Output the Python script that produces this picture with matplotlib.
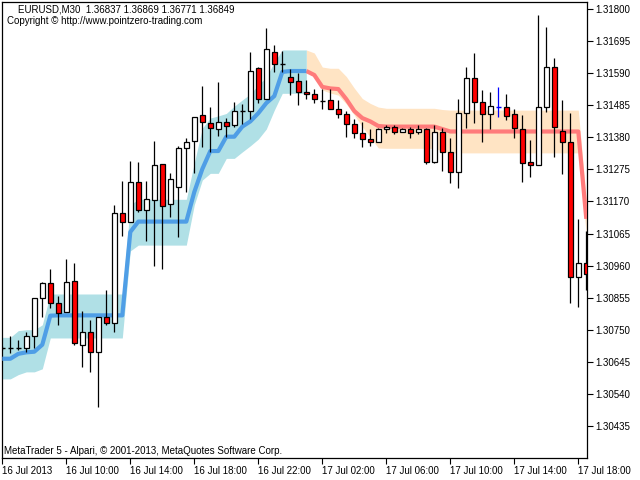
import matplotlib
matplotlib.use('Agg')
import matplotlib.pyplot as plt
import numpy as np

plt.rcParams['font.family'] = ['Liberation Sans', 'DejaVu Sans']

# EURUSD M30 candles, bar 0 = 16 Jul 06:00
opens = [1.30691, 1.30689, 1.30689, 1.30689, 1.30730, 1.30854, 1.30903, 1.30837, 1.30808, 1.30910,
         1.30700, 1.30742, 1.30677, 1.30793, 1.30772, 1.31132, 1.31102, 1.31233, 1.31141, 1.31174,
         1.31292, 1.31161, 1.31217, 1.31344, 1.31368, 1.31452, 1.31428, 1.31406, 1.31429, 1.31419,
         1.31466, 1.31466, 1.31606, 1.31506, 1.31660, 1.31619, 1.31579, 1.31563, 1.31528, 1.31522,
         1.31500, 1.31502, 1.31472, 1.31455, 1.31424, 1.31393, 1.31373, 1.31364, 1.31406, 1.31415,
         1.31396, 1.31406, 1.31398, 1.31406, 1.31300, 1.31396, 1.31331, 1.31268, 1.31459, 1.31573,
         1.31494, 1.31455, 1.31478, 1.31478, 1.31455, 1.31406, 1.31298, 1.31288, 1.31480, 1.31609,
         1.31400, 1.31366, 1.30924, 1.30968]
highs = [1.30698, 1.30730, 1.30717, 1.30743, 1.30854, 1.30907, 1.30949, 1.30861, 1.30982, 1.30970,
         1.30812, 1.30783, 1.30791, 1.30881, 1.31159, 1.31237, 1.31303, 1.31299, 1.31237, 1.31368,
         1.31292, 1.31262, 1.31352, 1.31379, 1.31447, 1.31548, 1.31480, 1.31561, 1.31444, 1.31494,
         1.31488, 1.31658, 1.31611, 1.31737, 1.31682, 1.31662, 1.31602, 1.31589, 1.31567, 1.31538,
         1.31538, 1.31538, 1.31502, 1.31466, 1.31439, 1.31431, 1.31407, 1.31409, 1.31420, 1.31420,
         1.31412, 1.31413, 1.31420, 1.31409, 1.31420, 1.31409, 1.31378, 1.31505, 1.31609, 1.31657,
         1.31535, 1.31527, 1.31544, 1.31522, 1.31473, 1.31452, 1.31371, 1.31780, 1.31742, 1.31640,
         1.31502, 1.31459, 1.31112, 1.31074]
lows = [1.30685, 1.30675, 1.30685, 1.30676, 1.30689, 1.30793, 1.30821, 1.30767, 1.30808, 1.30701,
        1.30627, 1.30610, 1.30497, 1.30764, 1.30741, 1.31057, 1.31102, 1.31137, 1.31039, 1.30957,
        1.30948, 1.31118, 1.31052, 1.31202, 1.31262, 1.31349, 1.31333, 1.31385, 1.31380, 1.31413,
        1.31423, 1.31440, 1.31491, 1.31506, 1.31595, 1.31595, 1.31520, 1.31486, 1.31506, 1.31493,
        1.31472, 1.31472, 1.31444, 1.31380, 1.31379, 1.31349, 1.31353, 1.31364, 1.31393, 1.31390,
        1.31396, 1.31377, 1.31391, 1.31292, 1.31297, 1.31270, 1.31232, 1.31213, 1.31411, 1.31428,
        1.31366, 1.31406, 1.31447, 1.31437, 1.31377, 1.31235, 1.31251, 1.31288, 1.31464, 1.31317,
        1.31259, 1.30839, 1.30823, 1.30881]
closes = [1.30691, 1.30689, 1.30689, 1.30730, 1.30854, 1.30903, 1.30837, 1.30805, 1.30906, 1.30705,
          1.30742, 1.30677, 1.30791, 1.30772, 1.31132, 1.31104, 1.31233, 1.31141, 1.31177, 1.31288,
          1.31154, 1.31243, 1.31344, 1.31366, 1.31447, 1.31429, 1.31409, 1.31429, 1.31417, 1.31466,
          1.31466, 1.31598, 1.31504, 1.31668, 1.31619, 1.31619, 1.31560, 1.31527, 1.31521, 1.31504,
          1.31500, 1.31472, 1.31455, 1.31424, 1.31393, 1.31373, 1.31364, 1.31407, 1.31415, 1.31396,
          1.31406, 1.31393, 1.31406, 1.31298, 1.31396, 1.31331, 1.31266, 1.31459, 1.31573, 1.31494,
          1.31455, 1.31481, 1.31478, 1.31449, 1.31409, 1.31295, 1.31288, 1.31480, 1.31609, 1.31413,
          1.31366, 1.30924, 1.30968, 1.30932]

# indicator: up trend (bars 0..38), down trend (bars 38..73)
up_line = [1.30655, 1.30655, 1.30671, 1.30676, 1.30678, 1.30701, 1.30796, 1.30797, 1.30797, 1.30797,
           1.30797, 1.30797, 1.30797, 1.30797, 1.30797, 1.30797, 1.31070, 1.31104, 1.31104, 1.31104,
           1.31104, 1.31104, 1.31104, 1.31104, 1.31201, 1.31276, 1.31335, 1.31335, 1.31382, 1.31382,
           1.31415, 1.31432, 1.31459, 1.31492, 1.31515, 1.31594, 1.31597, 1.31597, 1.31597]
up_upper = [1.30725, 1.30725, 1.30747, 1.30750, 1.30750, 1.30766, 1.30867, 1.30867, 1.30867, 1.30867,
            1.30867, 1.30867, 1.30867, 1.30867, 1.30867, 1.30867, 1.31159, 1.31177, 1.31177, 1.31177,
            1.31177, 1.31177, 1.31177, 1.31177, 1.31296, 1.31410, 1.31443, 1.31450, 1.31458, 1.31482,
            1.31502, 1.31522, 1.31551, 1.31577, 1.31626, 1.31666, 1.31666, 1.31666, 1.31666]
up_lower = [1.30589, 1.30589, 1.30603, 1.30612, 1.30612, 1.30622, 1.30723, 1.30723, 1.30723, 1.30723,
            1.30723, 1.30723, 1.30723, 1.30723, 1.30723, 1.30723, 1.31008, 1.31027, 1.31027, 1.31027,
            1.31027, 1.31027, 1.31027, 1.31027, 1.31159, 1.31240, 1.31262, 1.31262, 1.31311, 1.31311,
            1.31332, 1.31352, 1.31374, 1.31407, 1.31469, 1.31524, 1.31524, 1.31524, 1.31524]

down_line = [1.31597, 1.31584, 1.31545, 1.31540, 1.31538, 1.31505, 1.31466, 1.31443, 1.31432, 1.31417,
             1.31415, 1.31415, 1.31415, 1.31415, 1.31415, 1.31415, 1.31415, 1.31407, 1.31399, 1.31399,
             1.31399, 1.31399, 1.31399, 1.31399, 1.31399, 1.31399, 1.31399, 1.31399, 1.31399, 1.31399,
             1.31399, 1.31399, 1.31399, 1.31399, 1.31399, 1.31113]
down_upper = [1.31666, 1.31656, 1.31610, 1.31606, 1.31606, 1.31579, 1.31541, 1.31507, 1.31491, 1.31479,
              1.31475, 1.31475, 1.31475, 1.31475, 1.31475, 1.31475, 1.31475, 1.31471, 1.31469, 1.31469,
              1.31469, 1.31469, 1.31469, 1.31469, 1.31469, 1.31469, 1.31469, 1.31469, 1.31469, 1.31469,
              1.31469, 1.31469, 1.31469, 1.31469, 1.31469, 1.31175]
down_lower = [1.31594, 1.31580, 1.31535, 1.31525, 1.31518, 1.31489, 1.31453, 1.31414, 1.31381, 1.31345,
              1.31344, 1.31344, 1.31344, 1.31344, 1.31344, 1.31344, 1.31344, 1.31335, 1.31329, 1.31329,
              1.31329, 1.31329, 1.31329, 1.31329, 1.31329, 1.31329, 1.31329, 1.31329, 1.31329, 1.31329,
              1.31329, 1.31329, 1.31329, 1.31329, 1.31329, 1.31061]

price_ticks = [1.30435, 1.30540, 1.30645, 1.30750, 1.30855, 1.30960, 1.31065, 1.31170,
               1.31275, 1.31380, 1.31485, 1.31590, 1.31695, 1.31800]
time_ticks = [0, 8, 16, 24, 32, 40, 48, 56, 64, 72]
time_labels = ['16 Jul 2013', '16 Jul 10:00', '16 Jul 14:00', '16 Jul 18:00', '16 Jul 22:00',
               '17 Jul 02:00', '17 Jul 06:00', '17 Jul 10:00', '17 Jul 14:00', '17 Jul 18:00']

o = np.array(opens)
h = np.array(highs)
l = np.array(lows)
c = np.array(closes)
x = np.arange(len(o))

fig = plt.figure(figsize=(6.4, 4.8), dpi=100)
ax = fig.add_axes([2.3 / 640, 22 / 480, 585 / 640, 456 / 480])

# bands and trend lines
xu = np.arange(len(up_line))
xd = np.arange(len(up_line) - 1, len(up_line) - 1 + len(down_line))
ax.fill_between(xd, down_lower, down_upper, color='#ffe4c4', lw=0, zorder=1)
ax.fill_between(xu, up_lower, up_upper, color='#b0e0e6', lw=0, zorder=2)
ax.plot(xd, down_line, color='#ff7b7b', lw=3.0, solid_capstyle='butt', zorder=3)
ax.plot(xu, up_line, color='#4f9ee6', lw=3.0, solid_capstyle='butt', zorder=3)

# candles
wick_col = ['#0000ff' if i == 62 else 'black' for i in x]
ax.vlines(x, l, h, colors=wick_col, lw=0.9, zorder=4)
up = c > o
dn = c < o
fl = c == o
bw = 0.62
ax.bar(x[up], c[up] - o[up], bottom=o[up], width=bw, facecolor='white',
       edgecolor='black', lw=0.9, zorder=5)
ax.bar(x[dn], o[dn] - c[dn], bottom=c[dn], width=bw, facecolor='#ff0000',
       edgecolor='black', lw=0.9, zorder=5)
flat_col = [wick_col[i] for i in x[fl]]
ax.hlines(o[fl], x[fl] - bw / 2, x[fl] + bw / 2, colors=flat_col, lw=1.0, zorder=5)

ax.set_xlim(0, 73.125)
ax.set_ylim(1.30330, 1.31823)

ax.yaxis.tick_right()
ax.set_yticks(price_ticks)
ax.set_yticklabels(['%.5f' % v for v in price_ticks])
ax.set_xticks(time_ticks)
ax.set_xticklabels(time_labels, ha='left')
ax.tick_params(axis='both', direction='out', length=4, width=0.8, labelsize=7, pad=1.5, colors='black')
for s in ax.spines.values():
    s.set_linewidth(0.9)
    s.set_color('black')

fig.text(18 / 640, 1 - 9 / 480, 'EURUSD,M30  1.36837 1.36869 1.36771 1.36849', fontsize=7, va='center')
fig.text(7 / 640, 1 - 21 / 480, 'Copyright \u00a9 http://www.pointzero-trading.com', fontsize=7, va='center')
fig.text(4 / 640, 1 - 451.5 / 480, 'MetaTrader 5 - Alpari, \u00a9 2001-2013, MetaQuotes Software Corp.',
         fontsize=7, va='center')

fig.savefig('out.png', dpi=100)
